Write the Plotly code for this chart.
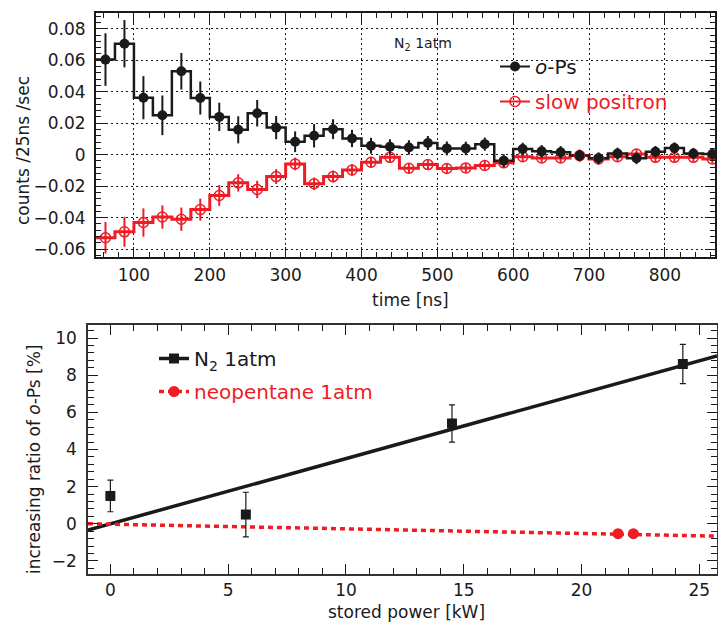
import plotly.graph_objects as go

# ---------------- data: top panel (N2 1atm) ----------------
time_ns = [62.5, 87.5, 112.5, 137.5, 162.5, 187.5, 212.5, 237.5, 262.5, 287.5, 312.5,
           337.5, 362.5, 387.5, 412.5, 437.5, 462.5, 487.5, 512.5, 537.5, 562.5, 587.5,
           612.5, 637.5, 662.5, 687.5, 712.5, 737.5, 762.5, 787.5, 812.5, 837.5, 862.5]
bin_width = 25
ops_counts = [0.0604, 0.0705, 0.0362, 0.025, 0.053, 0.036, 0.024, 0.0158, 0.0263, 0.0172, 0.0082,
              0.012, 0.0162, 0.0103, 0.0057, 0.005, 0.0046, 0.0074, 0.004, 0.004, 0.0067, -0.0038,
              0.0036, 0.0021, 0.0015, -0.0006, -0.0023, 0.0008, -0.0023, 0.0019, 0.0042, 0.0008, 0.0004]
ops_err = [0.0167, 0.015, 0.0137, 0.0126, 0.0116, 0.0105, 0.009, 0.0086, 0.0084, 0.0074, 0.0066,
           0.0074, 0.0063, 0.0055, 0.005, 0.0048, 0.0046, 0.0045, 0.0044, 0.0043, 0.0042, 0.0041,
           0.004, 0.004, 0.0039, 0.0038, 0.0038, 0.0037, 0.0037, 0.0036, 0.0036, 0.0035, 0.0035]
pos_counts = [-0.0528, -0.049, -0.0431, -0.0396, -0.041, -0.0349, -0.0259, -0.0179, -0.0221, -0.0139, -0.0059,
              -0.0185, -0.0139, -0.0097, -0.0048, -0.0017, -0.0086, -0.0063, -0.0088, -0.0084, -0.0069, -0.0052,
              -0.0013, -0.0021, -0.0021, -0.0006, -0.0027, -0.0013, 0.0004, -0.0017, -0.0017, -0.0017, -0.0027]
pos_err = [0.01, 0.0095, 0.009, 0.0074, 0.0074, 0.007, 0.0066, 0.0055, 0.0055, 0.0047, 0.004,
           0.004, 0.0038, 0.0036, 0.0035, 0.0034, 0.0033, 0.0032, 0.0032, 0.0031, 0.0031, 0.003,
           0.003, 0.003, 0.003, 0.003, 0.003, 0.003, 0.003, 0.003, 0.003, 0.003, 0.003]

# ---------------- data: bottom panel ----------------
n2_power = [0.0, 5.75, 14.5, 24.3]
n2_ratio = [1.5, 0.5, 5.4, 8.6]
n2_err = [0.85, 1.2, 1.0, 1.06]
n2_fit = (0.0, 0.351)          # intercept, slope
neo_power = [21.55, 22.2]
neo_ratio = [-0.53, -0.53]
neo_fit = (-0.02, -0.025)

BLACK = "#1a1a1a"
RED = "#ee1c25"
FONT = "DejaVu Sans"
W, H = 718, 628

top_xr = [50, 866]
top_yr = [-0.065, 0.09]
bot_xr = [-0.95, 25.75]
bot_yr = [-2.7, 10.7]


def px_x(p):
    return p / W


def px_y(p):
    return 1 - p / H


def steps(centers, vals, bw):
    xs = [c - bw / 2 for c in centers] + [centers[-1] + bw / 2]
    ys = list(vals) + [vals[-1]]
    return xs, ys


fig = go.Figure()

# --- top: step histograms
sx, sy = steps(time_ns, pos_counts, bin_width)
fig.add_trace(go.Scatter(x=sx, y=sy, mode="lines", line=dict(color=RED, width=3, shape="hv"),
                         showlegend=False, hoverinfo="skip", xaxis="x", yaxis="y"))
sx, sy = steps(time_ns, ops_counts, bin_width)
fig.add_trace(go.Scatter(x=sx, y=sy, mode="lines", line=dict(color=BLACK, width=2.5, shape="hv"),
                         showlegend=False, hoverinfo="skip", xaxis="x", yaxis="y"))
fig.add_trace(go.Scatter(x=time_ns, y=pos_counts, mode="markers",
                         marker=dict(symbol="circle-open", size=10, color=RED, line=dict(width=1.5, color=RED)),
                         error_y=dict(type="data", array=pos_err, color=RED, thickness=2, width=0),
                         showlegend=False, xaxis="x", yaxis="y"))
fig.add_trace(go.Scatter(x=time_ns, y=ops_counts, mode="markers",
                         marker=dict(symbol="circle", size=10, color=BLACK),
                         error_y=dict(type="data", array=ops_err, color=BLACK, thickness=2, width=0),
                         showlegend=False, xaxis="x", yaxis="y"))
# legend entries (top)
fig.add_trace(go.Scatter(x=[None], y=[None], mode="lines+markers", name="<i>o</i>-Ps",
                         line=dict(color=BLACK, width=2), marker=dict(symbol="circle", size=10, color=BLACK),
                         legend="legend", legendgroup="a", xaxis="x", yaxis="y"))
fig.add_trace(go.Scatter(x=[None], y=[None], mode="lines+markers",
                         name='<span style="color:%s">slow positron</span>' % RED,
                         line=dict(color=RED, width=2),
                         marker=dict(symbol="circle-open", size=10, color=RED, line=dict(width=1.5, color=RED)),
                         legend="legend", legendgroup="b", xaxis="x", yaxis="y"))

# --- bottom: fits and points
fx = bot_xr
fig.add_trace(go.Scatter(x=fx, y=[n2_fit[0] + n2_fit[1] * v for v in fx], mode="lines",
                         line=dict(color=BLACK, width=3.5), showlegend=False, hoverinfo="skip",
                         xaxis="x2", yaxis="y2"))
fig.add_trace(go.Scatter(x=fx, y=[neo_fit[0] + neo_fit[1] * v for v in fx], mode="lines",
                         line=dict(color=RED, width=3.5, dash="5px,4px"), showlegend=False, hoverinfo="skip",
                         xaxis="x2", yaxis="y2"))
fig.add_trace(go.Scatter(x=n2_power, y=n2_ratio, mode="markers",
                         marker=dict(symbol="square", size=10, color=BLACK),
                         error_y=dict(type="data", array=n2_err, color=BLACK, thickness=1.2, width=3),
                         showlegend=False, xaxis="x2", yaxis="y2"))
fig.add_trace(go.Scatter(x=neo_power, y=neo_ratio, mode="markers",
                         marker=dict(symbol="circle", size=11, color=RED),
                         showlegend=False, xaxis="x2", yaxis="y2"))
fig.add_trace(go.Scatter(x=[None], y=[None], mode="lines+markers", name="N<sub>2</sub> 1atm",
                         line=dict(color=BLACK, width=3.5), marker=dict(symbol="square", size=10, color=BLACK),
                         legend="legend2", legendgroup="c", xaxis="x2", yaxis="y2"))
fig.add_trace(go.Scatter(x=[None], y=[None], mode="lines+markers",
                         name='<span style="color:%s">neopentane 1atm</span>' % RED,
                         line=dict(color=RED, width=3.5, dash="5px,4px"),
                         marker=dict(symbol="circle", size=11, color=RED),
                         legend="legend2", legendgroup="d", xaxis="x2", yaxis="y2"))

axis_common = dict(showline=True, linecolor=BLACK, linewidth=2, mirror="ticks", ticks="inside",
                   tickcolor=BLACK, tickwidth=1.2, ticklen=10, zeroline=False, automargin=False,
                   tickfont=dict(family=FONT, size=17, color=BLACK))

fig.update_layout(
    width=W, height=H, margin=dict(l=0, r=0, t=0, b=0, autoexpand=False),
    paper_bgcolor="white", plot_bgcolor="white",
    font=dict(family=FONT, color=BLACK),
    xaxis=dict(axis_common, domain=[px_x(96), px_x(715)], range=top_xr, dtick=100, tick0=0,
               showgrid=True, gridcolor=BLACK, griddash="2px,3px", gridwidth=1,
               minor=dict(ticks="inside", ticklen=5, dtick=20, tickcolor=BLACK, showgrid=False),
               ticklabelstandoff=2, anchor="y"),
    yaxis=dict(axis_common, domain=[px_y(257), px_y(13)], range=top_yr, dtick=0.02, tick0=0,
               showgrid=True, gridcolor=BLACK, griddash="2px,3px", gridwidth=1,
               minor=dict(ticks="inside", ticklen=5, dtick=0.004, tickcolor=BLACK, showgrid=False),
               ticklabelstandoff=5, anchor="x"),
    xaxis2=dict(axis_common, domain=[px_x(88), px_x(717)], range=bot_xr, dtick=5, tick0=0,
                showgrid=False, linewidth=1.5, linecolor="#333333",
                minor=dict(ticks="inside", ticklen=6, dtick=1, tickcolor=BLACK, showgrid=False),
                ticklabelstandoff=0, anchor="y2"),
    yaxis2=dict(axis_common, domain=[px_y(574), px_y(325)], range=bot_yr, dtick=2, tick0=0,
                showgrid=False, linewidth=1.5, linecolor="#333333",
                minor=dict(ticks="inside", ticklen=6, dtick=0.4, tickcolor=BLACK, showgrid=False),
                ticklabelstandoff=6, anchor="x2"),
    legend=dict(x=px_x(495), y=px_y(47), xanchor="left", yanchor="top", bgcolor="rgba(0,0,0,0)",
                font=dict(family=FONT, size=20, color=BLACK), traceorder="grouped", tracegroupgap=6,
                itemclick=False, itemdoubleclick=False),
    legend2=dict(x=px_x(154), y=px_y(339), xanchor="left", yanchor="top", bgcolor="rgba(0,0,0,0)",
                 font=dict(family=FONT, size=20, color=BLACK), traceorder="grouped", tracegroupgap=4,
                 itemclick=False, itemdoubleclick=False),
    showlegend=True,
)

ann = [
    dict(text="N<sub>2</sub> 1atm", x=px_x(392), y=px_y(44), xanchor="left", yanchor="middle",
         font=dict(size=14)),
    dict(text="counts /25ns /sec", x=px_x(23), y=px_y(151), textangle=-90, font=dict(size=17)),
    dict(text="time [ns]", x=px_x(410), y=px_y(300), font=dict(size=17)),
    dict(text="increasing ratio of <i>o</i>-Ps [%]", x=px_x(34), y=px_y(460), textangle=-90,
         font=dict(size=17)),
    dict(text="stored power [kW]", x=px_x(406), y=px_y(612), font=dict(size=17)),
]
for a in ann:
    a.update(xref="paper", yref="paper", showarrow=False)
    a.setdefault("xanchor", "center")
    a.setdefault("yanchor", "middle")
    a["font"] = dict(family=FONT, color=BLACK, **a["font"])
fig.update_layout(annotations=ann)

fig.write_html("out.html", config={"displayModeBar": False},
               post_script="document.body.style.margin='0';document.body.style.overflow='hidden';")
